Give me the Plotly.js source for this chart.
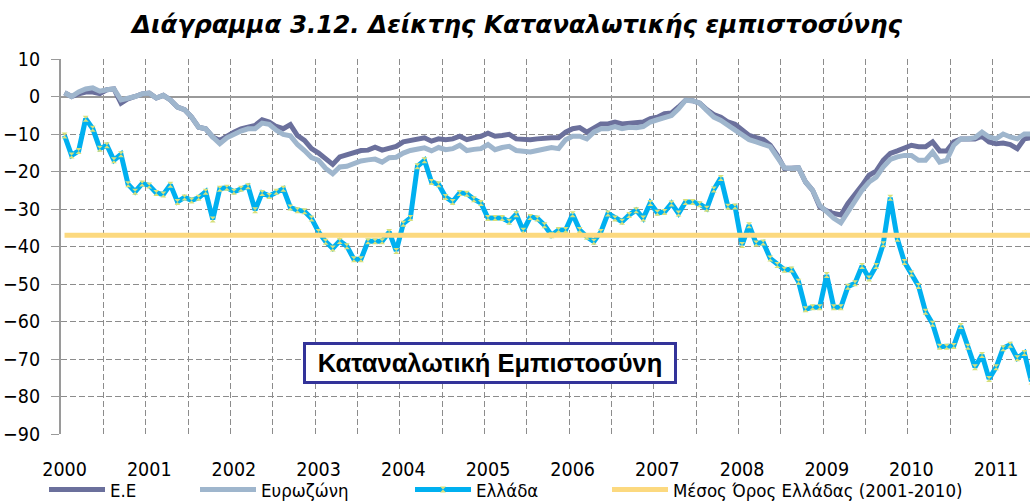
<!DOCTYPE html>
<html><head><meta charset="utf-8">
<script src="https://cdn.plot.ly/plotly-3.0.1.min.js"></script>
<style>html,body{margin:0;padding:0;background:#fff}</style>
</head><body><div id="chart" style="width:1030px;height:501px"></div>
<script>
const startYear = 2000;
const yearLabels = ['2000','2001','2002','2003','2004','2005','2006','2007','2008','2009','2010','2011'];
const seriesNames = ['Ε.Ε', 'Ευρωζώνη', 'Ελλάδα', 'Μέσος Όρος Ελλάδας (2001-2010)'];
const eu = [1.0,0.0,0.7,1.2,1.2,0.8,1.8,2.0,-1.8,-0.6,0.0,0.7,0.9,-0.4,0.3,-0.9,-2.8,-3.5,-5.5,-8.2,-8.6,-10.8,-11.7,-10.4,-9.5,-8.6,-8.0,-7.7,-6.2,-6.8,-8.0,-8.6,-7.5,-10.4,-11.7,-13.9,-15.1,-16.6,-18.1,-16.1,-15.6,-14.8,-14.4,-14.3,-13.5,-14.3,-13.7,-13.3,-12.1,-11.7,-11.5,-11.0,-11.9,-11.3,-11.5,-11.3,-10.6,-11.5,-11.0,-10.6,-9.8,-10.6,-10.4,-10.1,-11.3,-11.5,-11.5,-11.3,-11.0,-11.0,-11.0,-9.5,-8.6,-8.3,-9.5,-8.2,-7.3,-7.3,-6.8,-7.3,-7.1,-6.8,-6.8,-5.9,-5.5,-4.6,-4.4,-2.8,-1.0,-1.1,-1.8,-3.5,-4.8,-5.5,-6.8,-7.4,-9.0,-10.4,-11.0,-11.5,-13.0,-15.7,-19.2,-19.2,-19.0,-22.8,-25.0,-29.4,-30.5,-31.2,-31.6,-28.5,-26.3,-23.7,-21.0,-19.9,-17.0,-15.2,-14.5,-13.9,-13.0,-13.4,-13.4,-12.1,-14.5,-14.5,-12.1,-11.3,-11.3,-11.3,-10.6,-12.1,-12.6,-12.4,-12.8,-13.9,-11.3,-11.0];
const eurozone = [1.0,0.0,1.2,2.0,2.3,1.4,1.8,2.0,-0.9,-0.6,0.0,0.7,0.9,-0.4,0.3,-0.9,-2.8,-3.5,-5.5,-8.2,-8.6,-10.8,-12.6,-11.0,-10.0,-9.2,-8.6,-8.6,-7.1,-7.4,-9.0,-10.1,-10.5,-12.8,-14.4,-16.3,-17.0,-19.2,-20.6,-18.8,-18.6,-17.9,-17.2,-16.9,-16.7,-17.5,-16.3,-16.2,-15.1,-14.4,-14.1,-13.7,-14.5,-13.6,-14.2,-13.9,-13.0,-14.4,-14.1,-13.9,-12.8,-14.2,-13.6,-13.3,-14.4,-14.7,-14.8,-14.4,-13.9,-13.6,-13.9,-11.5,-10.6,-10.6,-11.3,-9.5,-8.6,-8.6,-8.0,-8.6,-8.2,-8.3,-8.0,-6.8,-6.2,-5.5,-5.1,-3.3,-1.0,-1.1,-1.8,-3.7,-5.5,-6.4,-7.7,-8.6,-10.0,-11.5,-12.1,-12.8,-13.4,-16.2,-19.0,-19.2,-19.0,-22.8,-25.0,-29.0,-30.8,-32.5,-33.7,-30.8,-28.5,-25.0,-22.8,-21.5,-18.8,-16.8,-16.1,-15.7,-15.7,-17.0,-17.0,-14.8,-17.5,-17.0,-13.0,-11.3,-11.3,-11.0,-9.5,-10.8,-11.3,-10.0,-10.8,-11.3,-10.0,-10.0];
const greece = [-10.4,-15.7,-14.5,-5.9,-8.6,-13.9,-13.0,-17.0,-15.4,-23.4,-25.4,-23.2,-23.7,-25.7,-26.1,-23.5,-28.1,-26.9,-27.7,-27.0,-25.4,-32.8,-24.6,-24.3,-25.4,-24.6,-23.9,-30.3,-25.7,-26.5,-25.4,-24.6,-29.6,-30.3,-30.6,-32.5,-36.1,-38.7,-40.5,-38.5,-39.9,-43.4,-43.4,-38.6,-38.6,-38.6,-36.1,-41.2,-33.9,-32.4,-18.6,-17.0,-22.8,-23.4,-26.8,-28.1,-25.7,-25.9,-27.4,-28.4,-32.4,-32.4,-32.4,-33.4,-31.4,-35.8,-32.1,-32.5,-34.3,-37.0,-35.6,-35.6,-31.4,-35.6,-37.4,-38.7,-36.1,-31.2,-32.5,-33.4,-31.6,-30.3,-32.5,-28.4,-31.0,-30.8,-28.5,-31.2,-28.1,-28.1,-28.7,-29.9,-24.8,-21.7,-29.4,-29.3,-39.6,-34.3,-39.2,-38.9,-43.2,-44.9,-46.2,-46.1,-49.4,-56.7,-56.2,-56.2,-47.6,-56.2,-56.2,-50.7,-49.8,-45.2,-48.5,-45.2,-39.4,-27.0,-37.9,-44.1,-47.2,-50.5,-57.4,-60.6,-66.7,-66.7,-66.5,-61.2,-66.7,-72.2,-68.9,-75.3,-72.2,-67.1,-66.2,-69.8,-68.4,-76.0];
const greeceMean = -37.0;

// monthly categories, Jan 2000 onward
const months = greece.map((_, i) => (startYear + Math.floor(i / 12)) + '-' + String(i % 12 + 1).padStart(2, '0'));
const xpos = months.map((_, i) => i);
const yearTickPos = yearLabels.map((_, k) => k * 12);
const halfYearGrid = [];
for (let k = -0.5; k < months.length; k += 6) halfYearGrid.push(k);

const FONT = '"DejaVu Sans Condensed", "Liberation Sans Narrow", "DejaVu Sans", sans-serif';
const common = {type: 'scatter', x: xpos, customdata: months, hoverinfo: 'skip'};

const traces = [
  Object.assign({}, common, {name: seriesNames[0], y: eu, mode: 'lines', line: {color: '#6B709C', width: 5}, legend: 'legend'}),
  Object.assign({}, common, {name: seriesNames[1], y: eurozone, mode: 'lines', line: {color: '#9FB6CD', width: 5}, legend: 'legend2'}),
  Object.assign({}, common, {name: seriesNames[2], y: greece, mode: 'lines+markers', line: {color: '#00B0F0', width: 5},
    marker: {symbol: 'hourglass', size: 6, color: '#D7E07A', line: {width: 0}}, legend: 'legend3'}),
  Object.assign({}, common, {name: seriesNames[3], y: months.map(() => greeceMean), mode: 'lines', line: {color: '#FCD97F', width: 5}, legend: 'legend4'})
];

const legendBase = {orientation: 'h', xref: 'container', yref: 'container', yanchor: 'middle', y: 1 - 490/501,
  font: {family: FONT, size: 18.5, color: '#000'}, bgcolor: 'rgba(0,0,0,0)', itemwidth: 56, tracegroupgap: 0};

const layout = {
  width: 1030, height: 501,
  margin: {l: 61, r: 0, t: 59, b: 67, pad: 0},
  paper_bgcolor: '#fff', plot_bgcolor: '#fff',
  showlegend: true,
  title: {text: '<b><i>Διάγραμμα 3.12. Δείκτης Καταναλωτικής εμπιστοσύνης</i></b>', x: 0.502, xanchor: 'center', y: 1 - 24/501, yanchor: 'middle',
    xref: 'container', yref: 'container',
    font: {family: '"DejaVu Sans", sans-serif', size: 24.5, color: '#000', weight: 'bold', style: 'italic'}},
  xaxis: {range: [-0.5, 136.8], tickmode: 'array', tickvals: yearTickPos, ticktext: yearLabels,
    showgrid: false, zeroline: false, showline: false, ticks: '', ticklabelstandoff: 21,
    tickfont: {family: FONT, size: 19.5, color: '#000'}, automargin: false,
    minor: {tickmode: 'array', tickvals: halfYearGrid, showgrid: true, gridcolor: '#8C8C8C', griddash: '6px,3px', gridwidth: 1, ticks: ''}},
  yaxis: {range: [-90, 10], dtick: 10, tick0: 0, showgrid: true, gridcolor: '#8C8C8C', griddash: '6px,3px', gridwidth: 1,
    zeroline: true, zerolinecolor: '#9A9A9A', zerolinewidth: 2, showline: true, linecolor: '#9A9A9A', linewidth: 2,
    ticks: 'outside', ticklen: 8, tickcolor: '#9A9A9A', tickwidth: 1, ticklabelstandoff: 7,
    tickfont: {family: FONT, size: 19.5, color: '#000'}, automargin: false},
  legend: Object.assign({}, legendBase, {x: 44/1030}),
  legend2: Object.assign({}, legendBase, {x: 195/1030}),
  legend3: Object.assign({}, legendBase, {x: 410/1030}),
  legend4: Object.assign({}, legendBase, {x: 607/1030}),
  annotations: [{text: '<b>Καταναλωτική Εμπιστοσύνη</b>', xref: 'paper', yref: 'paper', x: (489.5-61)/969, y: (434-363)/375,
    xanchor: 'center', yanchor: 'middle', showarrow: false, bgcolor: '#fff', bordercolor: '#333399', borderwidth: 3, borderpad: 2,
    width: 364, height: 32, font: {family: '"Liberation Sans", Arial, sans-serif', size: 25.5, color: '#000'}}]
};

Plotly.newPlot('chart', traces, layout, {displayModeBar: false, staticPlot: true});
</script></body></html>
